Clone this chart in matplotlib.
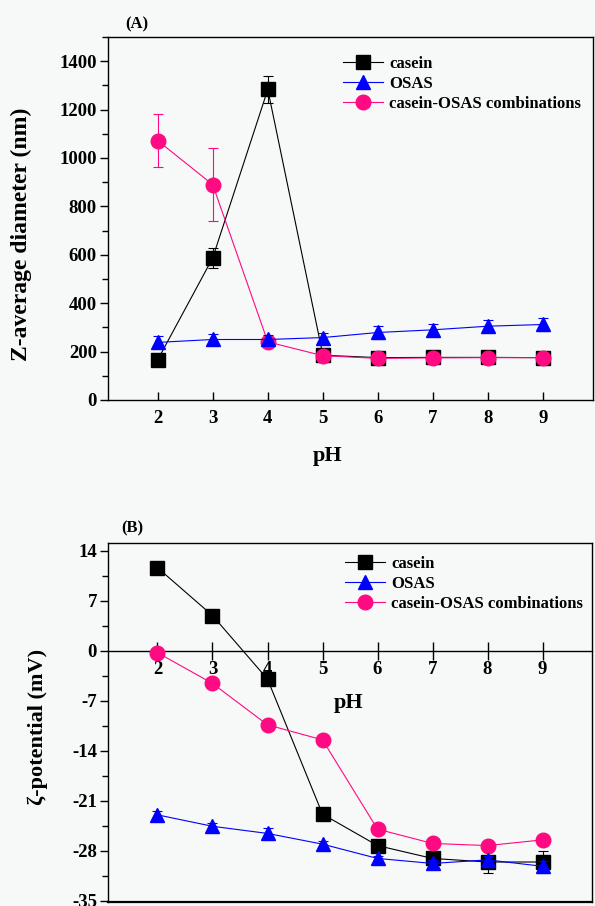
import numpy as np
import matplotlib
matplotlib.use("Agg")
import matplotlib.pyplot as plt
from matplotlib.ticker import MultipleLocator

# pH values shared by both panels
ph = [2, 3, 4, 5, 6, 7, 8, 9]

# (A) Z-average diameter (nm)
size_casein = [165, 587, 1283, 185, 175, 176, 176, 175]
size_casein_err = [12, 43, 56, 10, 8, 10, 12, 10]
size_osas = [238, 250, 250, 258, 279, 290, 305, 312]
size_osas_err = [25, 22, 20, 18, 25, 25, 25, 28]
size_combo = [1072, 890, 240, 183, 172, 174, 175, 175]
size_combo_err = [108, 150, 15, 12, 10, 10, 10, 10]

# (B) zeta potential (mV)
zeta_casein = [11.6, 4.9, -4.0, -22.9, -27.3, -29.1, -29.6, -29.6]
zeta_casein_err = [0.3, 0.3, 0.3, 0.4, 0.5, 0.6, 1.6, 1.6]
zeta_osas = [-23.0, -24.6, -25.6, -27.1, -29.1, -29.8, -29.3, -30.2]
zeta_osas_err = [0.6, 0.5, 0.7, 0.5, 0.4, 0.5, 0.6, 0.8]
zeta_combo = [-0.3, -4.6, -10.4, -12.5, -25.0, -27.0, -27.3, -26.5]
zeta_combo_err = [0.3, 0.3, 0.3, 0.3, 0.4, 0.4, 0.4, 0.4]

labels = ["casein", "OSAS", "casein-OSAS combinations"]
PINK = "#FF0A82"
BG = "#f7f8f8"

plt.rcParams['font.family'] = ['Liberation Serif', 'DejaVu Serif']
plt.rcParams['font.weight'] = 'bold'
plt.rcParams['axes.linewidth'] = 1.0
plt.rcParams['axes.unicode_minus'] = False

fig = plt.figure(figsize=(5.95, 9.06), dpi=100, facecolor=BG)
axA = fig.add_axes([0.1815, 0.5585, 0.815, 0.4007])
axB = fig.add_axes([0.1815, 0.0044, 0.8135, 0.3966])


def draw_series(ax, c, ce, o, oe, m, me):
    kw = dict(linewidth=0.8, elinewidth=0.8, capsize=3.5, capthick=0.8)
    h1 = ax.errorbar(ph, c, yerr=ce, color="black", marker="s", markersize=9.5,
                     zorder=3, **kw)
    h3 = ax.errorbar(ph, m, yerr=me, color=PINK, marker="o", markersize=10.5,
                     zorder=4, **kw)
    h2 = ax.errorbar(ph, o, yerr=oe, color="#0000FF", marker="^", markersize=10.5,
                     zorder=5, **kw)
    # legend shows only line + marker
    return [h1.lines[0], h2.lines[0], h3.lines[0]]


for ax in (axA, axB):
    ax.set_facecolor(BG)
    ax.set_xlim(1.1, 9.9)
    ax.set_xticks(ph)

# ---- panel A
hA = draw_series(axA, size_casein, size_casein_err, size_osas, size_osas_err,
                 size_combo, size_combo_err)
axA.set_ylim(0, 1500)
axA.yaxis.set_major_locator(MultipleLocator(200))
axA.yaxis.set_minor_locator(MultipleLocator(100))
axA.tick_params(axis='x', direction='in', length=6, width=1.0, pad=7, labelsize=13.5)
axA.tick_params(axis='y', which='major', direction='out', length=6, width=1.0, pad=2, labelsize=13.5)
axA.tick_params(axis='y', which='minor', direction='out', length=4, width=1.0)
axA.set_ylabel("Z-average diameter (nm)", fontsize=17, fontweight='bold')
axA.yaxis.set_label_coords(-0.157, 0.457)
axA.set_xlabel("pH", fontsize=16, fontweight='bold')
axA.xaxis.set_label_coords(0.452, -0.128)
axA.legend(hA, labels, loc='upper left', bbox_to_anchor=(0.485, 0.948),
           frameon=False, handlelength=2.4, handletextpad=0.35,
           labelspacing=0.25, borderpad=0, borderaxespad=0,
           prop={'weight': 'bold', 'size': 12})
fig.text(125 / 595, 1 - 24 / 906, "(A)", fontsize=12, fontweight='bold',
         va='center', ha='left')

# ---- panel B
hB = draw_series(axB, zeta_casein, zeta_casein_err, zeta_osas, zeta_osas_err,
                 zeta_combo, zeta_combo_err)
axB.set_ylim(-35.2, 15.1)
axB.yaxis.set_major_locator(MultipleLocator(7))
axB.yaxis.set_minor_locator(MultipleLocator(3.5))
axB.spines['bottom'].set_position(('data', 0))
axB.plot([0, 1], [0, 0], transform=axB.transAxes, color="black",
         linewidth=1.6, clip_on=False, zorder=6)
axB.tick_params(axis='x', direction='inout', length=13, width=1.0, pad=1, labelsize=13.5)
axB.tick_params(axis='y', which='major', direction='out', length=6, width=1.0, pad=2, labelsize=13.5)
axB.tick_params(axis='y', which='minor', direction='out', length=4, width=1.0)
axB.set_ylabel("ζ-potential (mV)", fontsize=16, fontweight='bold')
axB.yaxis.set_label_coords(-0.124, 0.486)
axB.set_xlabel("pH", fontsize=16, fontweight='bold')
axB.xaxis.set_label_coords(0.498, 0.582)
axB.legend(hB, labels, loc='upper left', bbox_to_anchor=(0.49, 0.963),
           frameon=False, handlelength=2.4, handletextpad=0.35,
           labelspacing=0.25, borderpad=0, borderaxespad=0,
           prop={'weight': 'bold', 'size': 12})
fig.text(121 / 595, 1 - 528 / 906, "(B)", fontsize=12, fontweight='bold',
         va='center', ha='left')

fig.savefig("out.png", dpi=100, facecolor=BG)
